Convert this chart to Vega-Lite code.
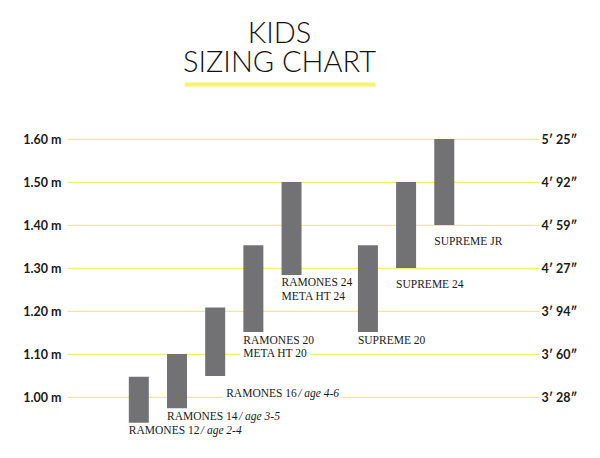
{
  "$schema": "https://vega.github.io/schema/vega-lite/v6.json",
  "width": 472,
  "height": 326.8,
  "autosize": "none",
  "padding": {"left": 67, "top": 121.8, "right": 61, "bottom": 9.4},
  "background": "white",
  "title": {
    "text": ["KIDS", "SIZING CHART"],
    "font": "Lato",
    "fontWeight": 300,
    "fontSize": 29,
    "lineHeight": 29,
    "color": "#111111",
    "anchor": "middle",
    "dx": -23.5,
    "offset": 4
  },
  "data": {
    "values": [
      {"name": "RAMONES 12", "slot": 1, "lo": 0.94, "hi": 1.047, "label": "RAMONES 12", "age": "/ age 2-4"},
      {"name": "RAMONES 14", "slot": 2, "lo": 0.974, "hi": 1.10, "label": "RAMONES 14", "age": "/ age 3-5"},
      {"name": "RAMONES 16", "slot": 3, "lo": 1.049, "hi": 1.208, "label": "RAMONES 16", "age": "/ age 4-6"},
      {"name": "RAMONES 20", "slot": 4, "lo": 1.151, "hi": 1.353, "label": "RAMONES 20\nMETA HT 20", "age": ""},
      {"name": "RAMONES 24", "slot": 5, "lo": 1.284, "hi": 1.50, "label": "RAMONES 24\nMETA HT 24", "age": ""},
      {"name": "SUPREME 20", "slot": 7, "lo": 1.151, "hi": 1.353, "label": "SUPREME 20", "age": ""},
      {"name": "SUPREME 24", "slot": 8, "lo": 1.30, "hi": 1.50, "label": "SUPREME 24", "age": ""},
      {"name": "SUPREME JR", "slot": 9, "lo": 1.40, "hi": 1.60, "label": "SUPREME JR", "age": ""}
    ]
  },
  "layer": [
    {
      "mark": {"type": "bar", "size": 20, "color": "#727274"},
      "encoding": {
        "x": {"field": "slot", "type": "quantitative", "scale": {"domain": [-0.75, 11.35], "nice": false, "zero": false}, "axis": null},
        "y": {
          "field": "lo", "type": "quantitative",
          "scale": {"domain": [0.88, 1.64], "nice": false, "zero": false},
          "axis": {
            "orient": "left",
            "values": [1.0, 1.1, 1.2, 1.3, 1.4, 1.5, 1.6],
            "labelExpr": "format(datum.value, '.2f') + ' m'",
            "domain": false, "ticks": false, "grid": true,
            "gridColor": "#eeea50", "gridWidth": 1, "gridOpacity": 1,
            "labelPadding": 6,
            "labelFont": "Lato", "labelFontWeight": "bold", "labelFontSize": 12.5,
            "labelColor": "#1a1a1a", "title": null
          }
        },
        "y2": {"field": "hi"}
      }
    },
    {
      "transform": [{"filter": {"field": "name", "equal": "RAMONES 20"}}],
      "mark": {"type": "text", "align": "left", "baseline": "alphabetic", "dx": -10, "dy": 11.5, "font": "Liberation Serif", "fontSize": 11.5, "lineBreak": "\n", "lineHeight": 13.3, "color": "white", "stroke": "white", "strokeWidth": 8, "strokeJoin": "round"},
      "encoding": {
        "x": {"field": "slot", "type": "quantitative", "axis": null},
        "y": {"field": "lo", "type": "quantitative", "axis": null},
        "text": {"field": "label"}
      }
    },
    {
      "transform": [{"filter": {"field": "name", "equal": "RAMONES 16"}}],
      "mark": {"type": "text", "align": "left", "baseline": "alphabetic", "dx": 11, "dy": 21, "font": "Liberation Serif", "fontSize": 11.5, "color": "white", "stroke": "white", "strokeWidth": 8, "strokeJoin": "round"},
      "encoding": {
        "x": {"field": "slot", "type": "quantitative", "axis": null},
        "y": {"field": "lo", "type": "quantitative", "axis": null},
        "text": {"field": "label"}
      }
    },
    {
      "transform": [{"filter": {"field": "name", "equal": "RAMONES 16"}}],
      "mark": {"type": "text", "align": "left", "baseline": "alphabetic", "dx": 83, "dy": 21, "font": "Liberation Serif", "fontStyle": "italic", "fontSize": 11.5, "color": "white", "stroke": "white", "strokeWidth": 8, "strokeJoin": "round"},
      "encoding": {
        "x": {"field": "slot", "type": "quantitative", "axis": null},
        "y": {"field": "lo", "type": "quantitative", "axis": null},
        "text": {"field": "age"}
      }
    },
    {
      "transform": [{"filter": {"field": "name", "oneOf": ["RAMONES 12", "RAMONES 14", "RAMONES 20", "RAMONES 24", "SUPREME 20"]}}],
      "mark": {"type": "text", "align": "left", "baseline": "alphabetic", "dx": -10, "dy": 11.5, "font": "Liberation Serif", "fontSize": 11.5, "lineBreak": "\n", "lineHeight": 13.3, "color": "#1a1a1a"},
      "encoding": {
        "x": {"field": "slot", "type": "quantitative", "axis": null},
        "y": {"field": "lo", "type": "quantitative", "axis": null},
        "text": {"field": "label"}
      }
    },
    {
      "transform": [{"filter": {"field": "name", "oneOf": ["SUPREME 24", "SUPREME JR"]}}],
      "mark": {"type": "text", "align": "left", "baseline": "alphabetic", "dx": -10, "dy": 20, "font": "Liberation Serif", "fontSize": 11.5, "color": "#1a1a1a"},
      "encoding": {
        "x": {"field": "slot", "type": "quantitative", "axis": null},
        "y": {"field": "lo", "type": "quantitative", "axis": null},
        "text": {"field": "label"}
      }
    },
    {
      "transform": [{"filter": {"field": "name", "equal": "RAMONES 16"}}],
      "mark": {"type": "text", "align": "left", "baseline": "alphabetic", "dx": 11, "dy": 21, "font": "Liberation Serif", "fontSize": 11.5, "color": "#1a1a1a"},
      "encoding": {
        "x": {"field": "slot", "type": "quantitative", "axis": null},
        "y": {"field": "lo", "type": "quantitative", "axis": null},
        "text": {"field": "label"}
      }
    },
    {
      "transform": [{"filter": {"field": "name", "oneOf": ["RAMONES 12", "RAMONES 14"]}}],
      "mark": {"type": "text", "align": "left", "baseline": "alphabetic", "dx": 62, "dy": 11.5, "font": "Liberation Serif", "fontStyle": "italic", "fontSize": 11.5, "color": "#1a1a1a"},
      "encoding": {
        "x": {"field": "slot", "type": "quantitative", "axis": null},
        "y": {"field": "lo", "type": "quantitative", "axis": null},
        "text": {"field": "age"}
      }
    },
    {
      "transform": [{"filter": {"field": "name", "equal": "RAMONES 16"}}],
      "mark": {"type": "text", "align": "left", "baseline": "alphabetic", "dx": 83, "dy": 21, "font": "Liberation Serif", "fontStyle": "italic", "fontSize": 11.5, "color": "#1a1a1a"},
      "encoding": {
        "x": {"field": "slot", "type": "quantitative", "axis": null},
        "y": {"field": "lo", "type": "quantitative", "axis": null},
        "text": {"field": "age"}
      }
    },
    {
      "data": {"values": [{"start": 2.2, "end": 7.2, "level": 1.727}]},
      "mark": {"type": "rule", "color": "#f7f36a", "strokeWidth": 4, "clip": false},
      "encoding": {
        "x": {"field": "start", "type": "quantitative", "axis": null},
        "x2": {"field": "end"},
        "y": {
          "field": "level", "type": "quantitative",
          "axis": {
            "orient": "right",
            "values": [1.0, 1.1, 1.2, 1.3, 1.4, 1.5, 1.6],
            "labelExpr": "{'1.00': '3′ 28″', '1.10': '3′ 60″', '1.20': '3′ 94″', '1.30': '4′ 27″', '1.40': '4′ 59″', '1.50': '4′ 92″', '1.60': '5′ 25″'}[format(datum.value, '.2f')]",
            "domain": false, "ticks": false, "grid": false,
            "labelPadding": 2,
            "labelFont": "Lato", "labelFontWeight": "bold", "labelFontSize": 12.5,
            "labelColor": "#1a1a1a", "title": null
          }
        }
      }
    }
  ],
  "resolve": {"axis": {"y": "independent"}},
  "config": {"view": {"stroke": null}}
}
